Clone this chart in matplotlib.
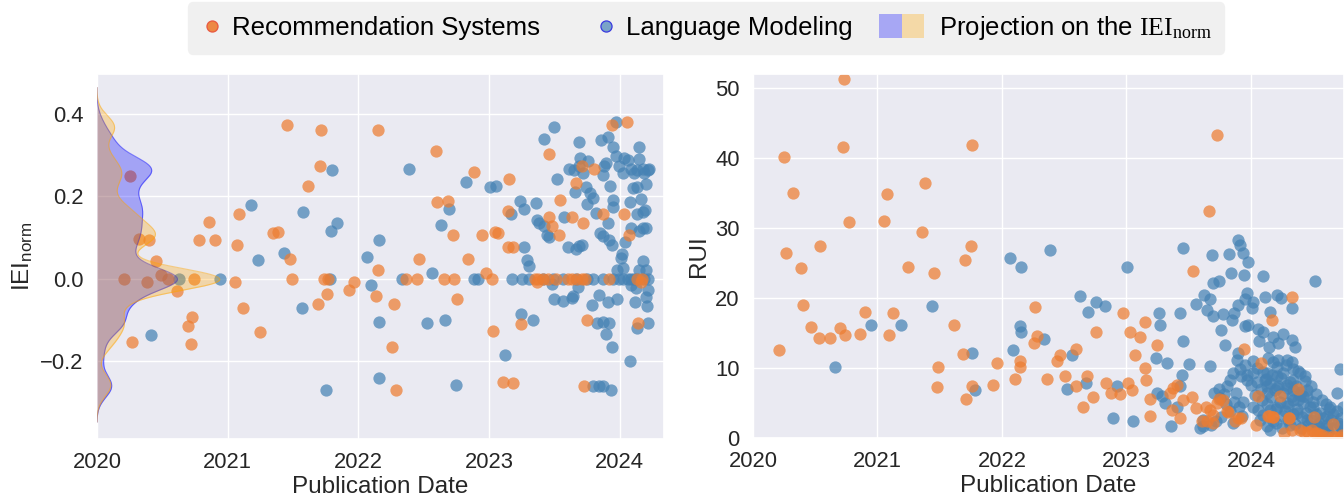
import numpy as np
import matplotlib
matplotlib.use("Agg")
import matplotlib.pyplot as plt
import seaborn as sns
from matplotlib.lines import Line2D
from matplotlib.patches import Patch, Rectangle
from matplotlib.legend_handler import HandlerBase

# ---------------- data ----------------
# Left panel: IEI_norm vs publication date (fractional year)
rs_iei_year = [2021.455, 2021.712, 2021.707, 2021.618, 2021.089, 2020.86, 2020.78, 2020.90, 2020.32, 2020.40,
               2021.073, 2021.35, 2021.385, 2020.45, 2021.48, 2020.21, 2020.38, 2020.49, 2020.54, 2020.74,
               2021.056, 2021.49, 2021.74, 2021.77, 2020.61, 2021.76, 2021.69, 2021.12, 2020.73, 2020.70,
               2021.245, 2020.27, 2020.72, 2020.25,
               2022.153, 2022.598, 2022.885, 2023.150, 2023.458, 2023.942, 2024.059, 2023.710, 2023.807, 2023.667,
               2023.547, 2022.603, 2022.690, 2023.145, 2023.458, 2023.636, 2023.723, 2023.870, 2024.036, 2022.725,
               2022.947, 2023.043, 2023.069, 2023.481, 2023.534, 2024.074, 2023.145, 2023.181, 2022.468, 2022.842,
               2022.153, 2021.967, 2021.931, 2022.132, 2022.272, 2022.758, 2022.975,
               2022.369, 2022.450, 2022.654, 2022.733, 2023.023, 2023.349, 2023.374, 2023.412, 2023.450, 2023.514,
               2023.603, 2023.636, 2023.672, 2023.710, 2023.738, 2023.916, 2024.137, 2024.170,
               2023.369, 2024.163, 2023.751, 2023.249, 2024.140, 2023.028, 2022.260, 2023.107, 2023.188, 2022.288,
               2023.725]
rs_iei = [0.372, 0.360, 0.274, 0.225, 0.158, 0.137, 0.093, 0.095, 0.097, 0.095,
          0.082, 0.111, 0.114, 0.042, 0.048, 0.0, -0.009, 0.010, 0.0, 0.0,
          -0.008, 0.0, 0.0, 0.0, -0.029, -0.036, -0.062, -0.071, -0.094, -0.114,
          -0.130, -0.154, -0.158, 0.249,
          0.360, 0.311, 0.258, 0.243, 0.303, 0.372, 0.381, 0.274, 0.266, 0.232,
          0.192, 0.186, 0.189, 0.164, 0.151, 0.150, 0.135, 0.158, 0.158, 0.106,
          0.106, 0.114, 0.112, 0.127, 0.106, 0.106, 0.077, 0.076, 0.048, 0.048,
          0.022, -0.007, -0.028, -0.041, -0.061, -0.048, 0.014,
          0.0, 0.0, 0.0, 0.0, 0.0, 0.0, 0.0, 0.0, 0.0, 0.0,
          0.0, 0.0, 0.0, 0.0, 0.0, 0.0, 0.0, 0.0,
          -0.009, -0.009, -0.100, -0.109, -0.108, -0.126, -0.166, -0.251, -0.253, -0.270,
          -0.260]

lm_iei_year = [2021.18, 2021.58, 2021.80, 2021.79, 2021.84, 2021.23, 2021.43, 2020.63, 2020.94,
               2021.78, 2021.57, 2020.41, 2021.75,
               2022.387, 2022.160, 2022.069, 2022.094, 2022.155, 2022.160, 2022.331, 2022.567, 2022.631, 2022.695,
               2022.527, 2022.664, 2022.751, 2022.822, 2022.883, 2022.916, 2023.005, 2023.056, 2023.120, 2023.178,
               2023.170, 2023.239, 2023.270, 2023.265, 2023.290, 2023.303, 2023.254, 2023.31, 2023.242, 2023.341,
               2023.361, 2023.366, 2023.387, 2023.425, 2023.443, 2023.456, 2023.425, 2023.496, 2023.522, 2023.483,
               2023.496, 2023.565, 2023.634, 2023.641, 2023.578, 2023.606, 2023.667, 2023.687, 2023.710, 2023.616,
               2023.649, 2023.692, 2023.718, 2023.662, 2023.697, 2023.761, 2023.692, 2023.743, 2023.776, 2023.794,
               2023.751, 2023.819, 2023.850, 2023.870, 2023.921, 2023.942, 2023.908, 2023.929, 2023.858, 2023.908,
               2023.949, 2023.883, 2023.870, 2023.896, 2023.951, 2023.972, 2023.997, 2024.023, 2024.036, 2024.061,
               2023.975, 2024.087, 2024.112, 2024.137, 2024.176, 2024.214, 2024.226, 2024.188, 2024.150, 2024.145,
               2024.099, 2024.137, 2024.201, 2024.163, 2024.081, 2024.137, 2024.176, 2024.196, 2024.087, 2024.150,
               2024.176, 2024.206, 2024.043, 2024.018, 2024.013, 2023.947,
               2023.412, 2023.489, 2023.565, 2023.667, 2023.748, 2023.794, 2023.870, 2023.946, 2023.997, 2024.023,
               2024.061, 2024.087, 2024.112, 2024.137, 2024.188, 2024.214,
               2023.977, 2024.023, 2024.176, 2024.201, 2024.150, 2024.087, 2024.125, 2024.219, 2024.206, 2024.209,
               2024.120, 2023.789, 2023.845, 2023.914, 2023.977, 2023.679, 2023.824, 2023.875, 2023.921, 2023.896,
               2023.942, 2024.137, 2024.214, 2024.081, 2023.794, 2023.845, 2023.870, 2023.934]
lm_iei = [0.178, 0.162, 0.265, 0.117, 0.135, 0.046, 0.062, 0.0, 0.0,
          0.0, -0.071, -0.136, -0.270,
          0.266, 0.095, 0.054, -0.015, -0.106, -0.240, 0.0, 0.015, 0.130, 0.170,
          -0.108, -0.100, -0.259, 0.235, 0.0, 0.0, 0.223, 0.224, -0.185, 0.0,
          0.158, 0.188, 0.170, 0.077, 0.046, 0.032, 0.0, 0.0, -0.085, -0.100,
          0.184, 0.143, 0.135, 0.127, 0.107, 0.101, 0.339, 0.368, 0.243, -0.012,
          -0.049, -0.053, -0.047, -0.043, 0.150, 0.077, 0.073, 0.079, 0.083, 0.266,
          0.265, 0.273, 0.257, 0.211, 0.293, 0.287, 0.331, 0.222, 0.208, 0.196,
          0.182, 0.160, 0.111, 0.103, 0.095, 0.083, 0.135, 0.224, 0.338, 0.343,
          0.319, 0.273, 0.253, 0.281, 0.192, 0.297, 0.273, 0.257, 0.293, 0.289,
          0.380, 0.266, 0.257, 0.265, 0.266, 0.265, 0.266, 0.257, 0.320, 0.291,
          0.220, 0.223, 0.231, 0.194, 0.186, 0.158, 0.161, 0.166, 0.123, 0.115,
          0.123, 0.123, 0.088, 0.061, 0.050, 0.174,
          0.0, 0.0, 0.0, 0.0, 0.0, 0.0, 0.0, 0.0, 0.0, 0.0,
          0.0, 0.0, 0.0, 0.0, 0.0, 0.0,
          0.022, 0.026, 0.042, 0.022, 0.022, -0.015, -0.023, -0.027, -0.045, -0.065,
          -0.057, -0.063, -0.040, -0.057, -0.049, -0.019, -0.108, -0.104, -0.108, -0.134,
          -0.166, -0.120, -0.108, -0.199, -0.260, -0.260, -0.260, -0.270]

# Right panel: RUI vs publication date
rs_rui_year = [2020.727, 2020.251, 2020.719, 2021.759, 2020.318, 2021.075, 2021.382, 2020.775, 2021.056, 2021.358,
               2020.537, 2020.267, 2021.749, 2021.706, 2020.385, 2021.246, 2021.452, 2020.401, 2020.898, 2021.126,
               2020.463, 2020.527, 2020.618, 2020.701, 2020.741, 2020.858, 2021.091, 2021.618, 2020.211, 2021.690,
               2021.487, 2021.481, 2021.759, 2021.711, 2021.930, 2021.957,
               2023.724, 2023.665, 2023.536, 2024.332, 2022.268, 2022.973, 2023.147, 2022.756, 2023.027, 2023.107,
               2022.284, 2022.257, 2023.249, 2024.169, 2022.598, 2022.464, 2022.442, 2023.067, 2022.147, 2022.147,
               2022.105, 2022.365, 2022.507, 2022.684, 2023.147, 2023.153, 2022.598, 2022.839, 2022.879, 2022.946,
               2023.013, 2023.046, 2022.651, 2022.727, 2023.188, 2023.188, 2023.375, 2023.402, 2023.348, 2023.450,
               2023.523, 2023.555, 2023.362, 2023.429, 2023.635, 2023.670, 2023.697, 2023.643, 2023.603, 2023.697,
               2023.745, 2023.724, 2023.818, 2023.893, 2023.946, 2024.078, 2024.059, 2024.038, 2024.233, 2024.375,
               2024.139, 2024.174, 2024.306, 2024.507, 2024.662, 2024.265, 2024.327, 2024.394, 2024.426, 2024.488,
               2024.528, 2024.568, 2024.609, 2024.662, 2024.716,
               2023.772, 2023.804, 2023.871, 2023.917, 2024.147, 2024.180, 2024.308, 2024.460, 2024.515, 2024.555,
               2024.676, 2024.730]
rs_rui = [51.3, 40.2, 41.6, 41.8, 35.0, 34.9, 36.5, 30.9, 31.0, 29.5,
          27.4, 26.4, 27.4, 25.4, 24.3, 24.5, 23.6, 19.0, 18.0, 17.9,
          15.8, 14.3, 14.3, 15.7, 14.7, 14.8, 14.7, 16.1, 12.6, 12.0,
          10.2, 7.3, 7.4, 5.6, 7.6, 10.7,
          43.3, 32.5, 23.9, 20.1, 18.7, 17.9, 16.6, 15.1, 15.1, 14.4,
          14.6, 13.6, 13.3, 16.8, 12.7, 11.9, 11.0, 11.9, 11.0, 10.1,
          8.5, 8.5, 8.9, 8.9, 10.0, 8.3, 7.5, 7.8, 6.5, 6.3,
          7.9, 6.9, 4.5, 5.8, 5.6, 3.2, 7.1, 7.6, 6.5, 5.5,
          5.9, 4.3, 4.0, 2.9, 4.5, 4.0, 3.3, 2.5, 2.4, 2.1,
          5.6, 5.0, 3.7, 2.9, 12.7, 10.7, 6.0, 1.9, 6.0, 7.0,
          3.2, 3.0, 2.9, 3.0, 2.0, 0.7, 1.1, 1.2, 0.8, 1.1,
          0.7, 0.5, 0.2, 0.3, 0.2,
          5.4, 3.8, 2.4, 2.8, 3.1, 2.95, 2.8, 0.9, 0.67, 0.43,
          0.19, 0.43]

lm_rui_year = [2020.660, 2020.944, 2021.187, 2021.439, 2021.759, 2021.783,
               2022.062, 2022.155, 2022.389, 2023.005, 2023.456, 2023.893, 2023.912, 2023.933, 2023.684, 2023.820,
               2023.836, 2023.944, 2023.979, 2023.697, 2023.743, 2024.099, 2024.517, 2022.625, 2022.692, 2022.753,
               2022.826, 2023.622, 2023.670, 2023.558, 2023.643, 2023.697, 2023.777, 2023.850, 2023.866, 2023.898,
               2023.965, 2023.952, 2024.019, 2024.011, 2024.113, 2024.206, 2024.241, 2024.330, 2024.153, 2023.263,
               2023.268, 2023.429, 2022.147, 2022.155, 2022.335, 2023.450, 2023.756, 2023.791, 2023.952, 2023.979,
               2024.059, 2024.067, 2024.099, 2024.147, 2024.180, 2024.220, 2024.260, 2024.327, 2024.354, 2022.088,
               2022.566, 2023.236, 2023.322, 2023.501, 2023.670, 2023.898, 2023.885, 2023.858, 2023.831, 2023.804,
               2023.912, 2023.965, 2024.019, 2024.113, 2024.206, 2024.287, 2024.340, 2024.394, 2024.434, 2023.442,
               2023.429, 2022.525, 2022.673, 2022.920, 2023.241, 2023.282, 2023.308, 2023.402, 2022.893, 2023.054,
               2023.354, 2023.590, 2023.617, 2023.617, 2023.751, 2023.858, 2023.938, 2024.019, 2024.126, 2024.153,
               2024.206, 2024.287, 2024.340, 2024.421, 2024.501, 2024.555, 2024.635, 2024.689, 2024.716, 2024.609,
               2024.716, 2024.743, 2024.072, 2024.126, 2024.180, 2024.260, 2024.314, 2024.367, 2024.448, 2024.528,
               2024.609, 2024.126, 2024.206, 2024.287, 2024.340, 2024.394, 2024.448, 2024.260, 2024.340, 2024.206,
               2024.126,
               2024.05, 2024.08, 2024.10, 2024.12, 2024.15, 2024.17, 2024.19, 2024.22, 2024.24, 2024.26,
               2024.29, 2024.31, 2024.33, 2024.36, 2024.38, 2024.40, 2024.42, 2024.45, 2024.47, 2024.50,
               2024.09, 2024.13, 2024.16, 2024.20, 2024.23, 2024.27, 2024.30, 2024.34, 2024.37, 2024.41,
               2024.44, 2024.48, 2024.52, 2024.55, 2024.58, 2024.61, 2024.64, 2024.67, 2024.70, 2024.73,
               2024.53, 2024.57, 2024.62, 2024.46, 2024.40, 2024.35, 2024.30, 2024.25, 2024.20, 2024.15,
               2024.10, 2024.06, 2024.03, 2024.00, 2023.97, 2023.95, 2023.92, 2024.02, 2024.05, 2024.14,
               2024.18, 2024.22, 2024.28, 2024.33, 2024.38, 2024.43, 2024.48, 2024.52, 2024.57, 2024.60,
               2024.63, 2024.66, 2024.69, 2024.72, 2024.74, 2023.88, 2023.90, 2023.93, 2023.86, 2023.83,
               2023.80, 2023.76, 2023.72, 2023.68, 2023.78, 2023.74, 2023.70]
lm_rui = [10.2, 16.1, 16.1, 18.8, 12.2, 6.8,
          25.7, 24.5, 26.8, 24.5, 27.1, 28.3, 27.6, 26.5, 26.1, 26.3,
          23.6, 23.3, 25.2, 22.2, 22.4, 23.2, 22.5, 20.3, 18.0, 19.5,
          18.9, 20.5, 19.9, 19.2, 18.3, 17.4, 17.7, 16.8, 17.9, 19.0,
          20.7, 19.8, 19.5, 18.6, 20.1, 20.5, 20.0, 18.6, 18.0, 17.9,
          16.1, 17.8, 16.0, 15.1, 14.1, 13.8, 15.4, 13.3, 16.0, 16.1,
          15.6, 13.8, 15.2, 13.0, 14.5, 13.6, 14.9, 14.0, 13.0, 12.6,
          11.8, 11.5, 10.7, 10.6, 10.3, 12.1, 11.2, 9.3, 8.3, 7.4,
          9.8, 8.3, 9.3, 8.3, 8.8, 11.2, 9.8, 9.3, 8.8, 9.0,
          7.4, 7.0, 7.9, 7.5, 6.5, 6.0, 5.0, 4.5, 2.9, 2.5,
          1.7, 1.4, 1.7, 2.6, 5.7, 2.1, 5.2, 4.5, 6.4, 4.0,
          4.5, 5.0, 5.5, 6.0, 4.5, 3.6, 4.5, 6.4, 9.8, 3.1,
          1.7, 0.7, 2.6, 1.7, 2.4, 3.1, 1.9, 3.6, 2.6, 1.9,
          1.4, 7.4, 7.1, 7.6, 6.9, 6.2, 6.9, 9.3, 8.3, 10.2,
          9.3,
          8.0, 7.0, 9.5, 8.5, 7.8, 9.0, 6.8, 7.5, 8.6, 6.5,
          7.2, 8.0, 6.0, 7.4, 5.5, 6.6, 5.0, 5.8, 4.4, 5.2,
          5.5, 4.8, 5.9, 4.2, 5.2, 3.8, 4.6, 3.5, 4.2, 3.0,
          3.6, 2.6, 3.4, 2.2, 2.9, 1.9, 2.6, 1.5, 2.2, 1.2,
          1.5, 1.0, 0.8, 1.8, 1.4, 2.0, 2.6, 1.5, 2.2, 1.2,
          3.3, 4.0, 6.2, 7.6, 9.0, 10.5, 8.8, 11.0, 10.0, 11.5,
          10.8, 11.2, 10.4, 10.9, 9.6, 8.2, 7.4, 6.3, 5.5, 4.9,
          4.1, 3.5, 3.9, 2.9, 4.5, 6.5, 4.5, 3.2, 5.2, 3.8,
          4.8, 3.0, 2.4, 1.8, 6.3, 7.0, 6.5]

year_ticks = [2020, 2021, 2022, 2023, 2024]
iei_ticks = [-0.2, 0.0, 0.2, 0.4]
rui_ticks = [0, 10, 20, 30, 40, 50]

label_rs = "Recommendation Systems"
label_lm = "Language Modeling"
label_proj = r"Projection on the $\mathrm{IEI}_{\mathrm{norm}}$"

# ---------------- style ----------------
sns.set_theme(style="darkgrid")
plt.rcParams["font.family"] = ["Liberation Sans", "DejaVu Sans"]
plt.rcParams["mathtext.fontset"] = "custom"
plt.rcParams["mathtext.rm"] = "Liberation Serif"
plt.rcParams["mathtext.it"] = "Liberation Serif:italic"
plt.rcParams["mathtext.sf"] = "Liberation Sans"

c_rs = "#ED7D31"
c_lm = "#4682B4"
pt_size = 78
pt_alpha = 0.72

fig = plt.figure(figsize=(13.44, 4.98), dpi=100)
ax1 = fig.add_axes([97 / 1344, 59 / 498, (664 - 97) / 1344, (439 - 74) / 498])
ax2 = fig.add_axes([753 / 1344, 60 / 498, (1344 - 753) / 1344, (438 - 74) / 498])

# ---------------- left panel ----------------
ax1.scatter(lm_iei_year, lm_iei, s=pt_size, color=c_lm, alpha=pt_alpha, linewidths=0, zorder=2)
ax1.scatter(rs_iei_year, rs_iei, s=pt_size, color=c_rs, alpha=pt_alpha, linewidths=0, zorder=2)

def kde(vals, grid, bw):
    v = np.asarray(vals)[:, None]
    d = np.exp(-0.5 * ((grid[None, :] - v) / bw) ** 2).sum(axis=0)
    return d / (len(vals) * bw * np.sqrt(2 * np.pi))

bw = 0.026
x0 = 2020.0
all_iei = np.array(rs_iei + lm_iei)
grid = np.linspace(all_iei.min() - 3 * bw, all_iei.max() + 3.2 * bw, 600)
d_rs = kde(rs_iei, grid, bw)
d_lm = kde(lm_iei, grid, bw)
scale = 0.94 / d_rs.max()
ax1.fill_betweenx(grid, x0, x0 + d_lm * scale, color="blue", alpha=0.3, linewidth=0, zorder=3)
ax1.plot(x0 + d_lm * scale, grid, color="blue", alpha=0.45, lw=0.8, zorder=3)
ax1.fill_betweenx(grid, x0, x0 + d_rs * scale, color="orange", alpha=0.3, linewidth=0, zorder=3)
ax1.plot(x0 + d_rs * scale, grid, color="orange", alpha=0.45, lw=0.8, zorder=3)

ax1.set_xlim(2020, 2024.34)
ax1.set_ylim(-0.389, 0.497)
ax1.set_xticks(year_ticks)
ax1.set_xticklabels([str(y) for y in year_ticks])
ax1.set_yticks(iei_ticks)
ax1.set_yticklabels([f"{t:.1f}".replace("-", "\u2212") for t in iei_ticks])
ax1.set_xlabel("Publication Date", fontsize=17.5, labelpad=2)
ax1.set_ylabel(r"IEI$_{\mathsf{norm}}$", fontsize=17.5)
ax1.tick_params(labelsize=15.8)

# ---------------- right panel ----------------
ax2.scatter(lm_rui_year, lm_rui, s=pt_size, color=c_lm, alpha=pt_alpha, linewidths=0, zorder=2)
ax2.scatter(rs_rui_year, rs_rui, s=pt_size, color=c_rs, alpha=pt_alpha, linewidths=0, zorder=2)
ax2.set_xlim(2020, 2024.747)
ax2.set_ylim(0, 52)
ax2.set_xticks(year_ticks)
ax2.set_xticklabels([str(y) for y in year_ticks])
ax2.set_yticks(rui_ticks)
ax2.set_xlabel("Publication Date", fontsize=17.5, labelpad=2)
ax2.set_ylabel("RUI", fontsize=17.5)
ax2.tick_params(labelsize=15.8)

# ---------------- legend ----------------
class ProjHandler(HandlerBase):
    """Two side-by-side swatches (blue | orange) for the KDE projection."""
    def create_artists(self, legend, orig_handle, xdescent, ydescent, width, height, fontsize, trans):
        total = 1.75 * fontsize
        end = -xdescent + width - 0.28 * fontsize
        start = end - total
        h = 0.9 * fontsize
        y0 = -ydescent + height / 2 - h / 2
        arts = []
        for i, p in enumerate(orig_handle):
            r = Rectangle((start + i * total / 2, y0), total / 2, h,
                          facecolor=p.get_facecolor(), edgecolor="none", transform=trans)
            arts.append(r)
        return arts

class ProjHandle(tuple):
    pass

h_rs = Line2D([], [], marker="o", linestyle="none", markersize=8, markerfacecolor=c_rs,
              markeredgecolor="#e8503a", markeredgewidth=0.9, alpha=0.9)
h_lm = Line2D([], [], marker="o", linestyle="none", markersize=8, markerfacecolor="#7aa3c8",
              markeredgecolor="#3a3ae0", markeredgewidth=0.9)
h_proj = ProjHandle((Patch(facecolor=(0, 0, 1, 0.3)), Patch(facecolor=(1, 0.647, 0, 0.3))))
leg = fig.legend([h_rs, h_lm, h_proj], [label_rs, label_lm, label_proj],
                 loc="center", bbox_to_anchor=(706 / 1344, 1 - 28 / 498), ncol=3,
                 fontsize=18.5, frameon=True, fancybox=True, facecolor="#f0f0f0", edgecolor="#f0f0f0",
                 framealpha=1, handlelength=0.96, handletextpad=0.3, columnspacing=2.1,
                 borderpad=0.45, handler_map={ProjHandle: ProjHandler()})
for t in leg.get_texts():
    t.set_color("black")

fig.savefig("out.png", dpi=100)
